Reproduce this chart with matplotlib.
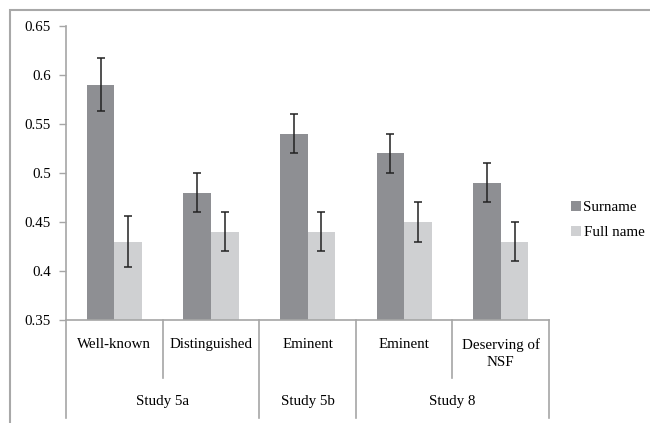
import matplotlib
matplotlib.use("Agg")
import matplotlib.pyplot as plt
import matplotlib.transforms as mtransforms
from matplotlib.patches import Rectangle
import numpy as np

# Data
conditions = ["Well-known", "Distinguished", "Eminent", "Eminent", "Deserving of\nNSF"]
studies = ["Study 5a", "Study 5b", "Study 8"]
study_spans = [(0, 1), (2, 2), (3, 4)]
surname = [0.59, 0.48, 0.54, 0.52, 0.49]
surname_err = [0.027, 0.02, 0.02, 0.02, 0.02]
fullname = [0.43, 0.44, 0.44, 0.45, 0.43]
fullname_err = [0.026, 0.02, 0.02, 0.02, 0.02]
series_names = ["Surname", "Full name"]
yticks = [0.35, 0.4, 0.45, 0.5, 0.55, 0.6, 0.65]
ytick_labels = ["0.35", "0.4", "0.45", "0.5", "0.55", "0.6", "0.65"]

plt.rcParams["font.family"] = ["Liberation Serif", "DejaVu Serif"]
FS = 10.8

fig = plt.figure(figsize=(6.5, 4.23), dpi=100)
W, H = 650, 423
ax = fig.add_axes([66 / W, 1 - 320 / H, (549 - 66) / W, (320 - 26) / H])

dark = "#8e8f93"
light = "#cfd0d2"
grey_line = "#a6a6a6"

x = np.arange(len(conditions))
bw = 1 / 3.5
ax.bar(x - bw / 2, np.array(surname) - 0.35, bw, bottom=0.35, color=dark,
       label=series_names[0], zorder=2)
ax.bar(x + bw / 2, np.array(fullname) - 0.35, bw, bottom=0.35, color=light,
       label=series_names[1], zorder=2)
ax.errorbar(x - bw / 2, surname, yerr=surname_err, fmt="none", ecolor="#222222",
            elinewidth=1.1, capsize=3, capthick=1.1, zorder=3)
ax.errorbar(x + bw / 2, fullname, yerr=fullname_err, fmt="none", ecolor="#222222",
            elinewidth=1.1, capsize=3, capthick=1.1, zorder=3)

ax.set_xlim(-0.5, len(conditions) - 0.5)
ax.set_ylim(0.35, 0.65)
ax.set_yticks(yticks)
ax.set_yticklabels(ytick_labels, fontsize=FS)
ax.set_xticks([])
ax.tick_params(axis="y", direction="out", length=5, width=1, color=grey_line,
               pad=6)
for s in ["top", "right"]:
    ax.spines[s].set_visible(False)
for s in ["left", "bottom"]:
    ax.spines[s].set_color(grey_line)
    ax.spines[s].set_linewidth(1.2)

# Two-level category axis below the plot
trans = mtransforms.blended_transform_factory(ax.transData, ax.transAxes)
axis_h = 320 - 26
long_end = -(418 - 320) / axis_h
short_end = -(378 - 320) / axis_h
outer = [-0.5] + [b + 0.5 for (_, b) in study_spans]
inner = []
for a, b in study_spans:
    inner += [i + 0.5 for i in range(a, b)]
for xb in outer:
    ax.plot([xb, xb], [0, long_end], color=grey_line, lw=1.2, transform=trans,
            clip_on=False)
for xb in inner:
    ax.plot([xb, xb], [0, short_end], color=grey_line, lw=1.2, transform=trans,
            clip_on=False)

for i, lab in enumerate(conditions):
    ax.text(i, -(338 - 320) / axis_h, lab, transform=trans, ha="center",
            va="top", fontsize=FS, linespacing=1.4)
for (a, b), lab in zip(study_spans, studies):
    ax.text((a + b) / 2, -(402 - 320) / axis_h, lab, transform=trans,
            ha="center", va="center", fontsize=FS)

leg = ax.legend(loc="center left", bbox_to_anchor=(1.0, 0.34), frameon=False,
                fontsize=FS, handlelength=0.7, handleheight=0.7,
                handletextpad=0.15, labelspacing=0.75, borderaxespad=1.05)

# Outer chart frame
fig.patches.append(Rectangle((10 / W, -0.1), 1.2, 1 - 10 / H + 0.1,
                             transform=fig.transFigure, fill=False,
                             edgecolor="#a8a8a8", lw=1.5))

fig.savefig("out.png", dpi=100)
